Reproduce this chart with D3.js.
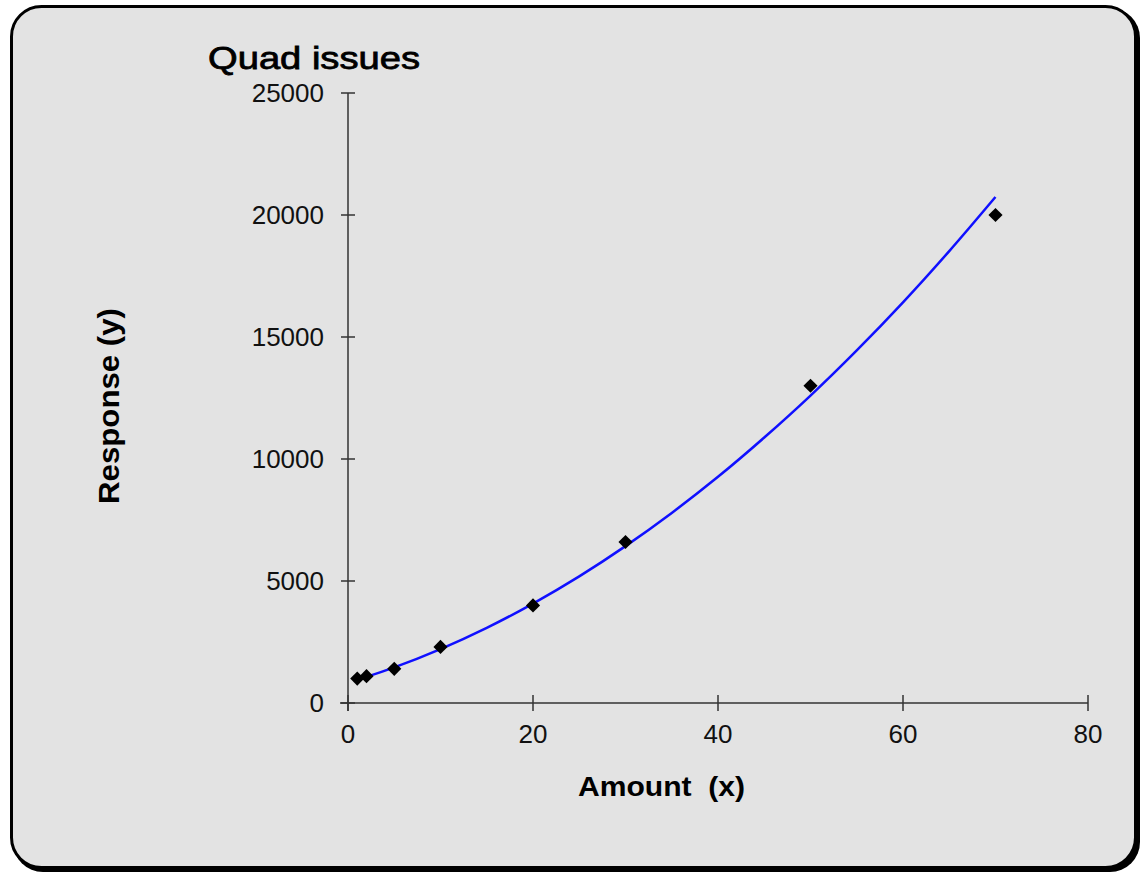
<!DOCTYPE html>
<html>
<head>
<meta charset="utf-8">
<script src="https://cdn.jsdelivr.net/npm/d3@7"></script>
<style>
  body { margin: 0; background: #fff; }
  svg text { font-family: "Liberation Sans", Arial, sans-serif; }
</style>
</head>
<body>
<div id="chart"></div>
<script>
const w = 1142;
const h = 875;

// observed points
const amounts = [1, 2, 5, 10, 20, 30, 50, 70];
const responses = [1000, 1100, 1400, 2300, 4000, 6600, 13000, 20000];

// trend line
const fitX = [1, 2, 5, 10, 15, 20, 25, 30, 35, 40, 45, 50, 55, 60, 65, 70];
const fitY = [950, 1070, 1460, 2210, 3080, 4075, 5190, 6430, 7790, 9270, 10880, 12600, 14450, 16420, 18520, 20740];

const xTicks = [0, 20, 40, 60, 80];
const yTicks = [0, 5000, 10000, 15000, 20000, 25000];

const svg = d3.select("#chart")
  .append("svg")
    .attr("width", w)
    .attr("height", h);

// frame with a little shadow
svg.append("rect")
  .attr("x", 13).attr("y", 8)
  .attr("width", 1127).attr("height", 864)
  .attr("rx", 30)
  .attr("fill", "#000");
svg.append("rect")
  .attr("x", 11.5).attr("y", 6.5)
  .attr("width", 1124).attr("height", 861)
  .attr("rx", 30)
  .attr("fill", "#e3e3e3")
  .attr("stroke", "#000")
  .attr("stroke-width", 3);

const x = d3.scaleLinear().domain([0, 80]).range([348, 1088]);
const y = d3.scaleLinear().domain([0, 25000]).range([703, 93]);

const axisColor = "#333";

// x axis
const gx = svg.append("g").attr("transform", "translate(0,703)");
gx.append("line")
  .attr("x1", 340).attr("x2", x(80))
  .attr("stroke", axisColor).attr("stroke-width", 1.5);
gx.selectAll(".tick")
  .data(xTicks)
  .enter()
  .append("line")
    .attr("x1", d => x(d)).attr("x2", d => x(d))
    .attr("y1", -8).attr("y2", 8)
    .attr("stroke", axisColor).attr("stroke-width", 1.5);
gx.selectAll("text")
  .data(xTicks)
  .enter()
  .append("text")
    .attr("x", d => x(d))
    .attr("y", 40)
    .attr("text-anchor", "middle")
    .attr("font-size", 26)
    .attr("fill", "#111")
    .text(d => d);

// y axis
const gy = svg.append("g").attr("transform", "translate(348,0)");
gy.append("line")
  .attr("y1", y(25000)).attr("y2", 711)
  .attr("stroke", axisColor).attr("stroke-width", 1.5);
gy.selectAll(".tick")
  .data(yTicks)
  .enter()
  .append("line")
    .attr("y1", d => y(d)).attr("y2", d => y(d))
    .attr("x1", -7).attr("x2", 7)
    .attr("stroke", axisColor).attr("stroke-width", 1.5);
gy.selectAll("text")
  .data(yTicks)
  .enter()
  .append("text")
    .attr("x", -24)
    .attr("y", d => y(d) + 9)
    .attr("text-anchor", "end")
    .attr("font-size", 26)
    .attr("fill", "#111")
    .text(d => d);

// trend line
const line = d3.line()
  .x(d => x(d[0]))
  .y(d => y(d[1]))
  .curve(d3.curveMonotoneX);
svg.append("path")
  .datum(fitX.map((v, i) => [v, fitY[i]]))
  .attr("d", line)
  .attr("fill", "none")
  .attr("stroke", "#1010ff")
  .attr("stroke-width", 2.5);

// points
svg.selectAll(".pt")
  .data(amounts.map((v, i) => [v, responses[i]]))
  .enter()
  .append("path")
    .attr("class", "pt")
    .attr("d", d3.symbol().type(d3.symbolSquare).size(100))
    .attr("transform", d => "translate(" + x(d[0]) + "," + y(d[1]) + ") rotate(45)")
    .attr("fill", "#000");

// titles
svg.append("text")
  .attr("x", 208).attr("y", 69)
  .attr("font-size", 32)
  .attr("textLength", 212)
  .attr("lengthAdjust", "spacingAndGlyphs")
  .attr("fill", "#000")
  .attr("stroke", "#000")
  .attr("stroke-width", 0.8)
  .text("Quad issues");

svg.append("text")
  .attr("x", 578).attr("y", 796)
  .attr("font-size", 28)
  .attr("font-weight", "bold")
  .attr("textLength", 167)
  .attr("lengthAdjust", "spacingAndGlyphs")
  .style("white-space", "pre")
  .text("Amount  (x)");

svg.append("text")
  .attr("transform", "translate(119,406) rotate(-90)")
  .attr("text-anchor", "middle")
  .attr("font-size", 29)
  .attr("font-weight", "bold")
  .attr("textLength", 196)
  .attr("lengthAdjust", "spacingAndGlyphs")
  .text("Response (y)");
</script>
</body>
</html>
